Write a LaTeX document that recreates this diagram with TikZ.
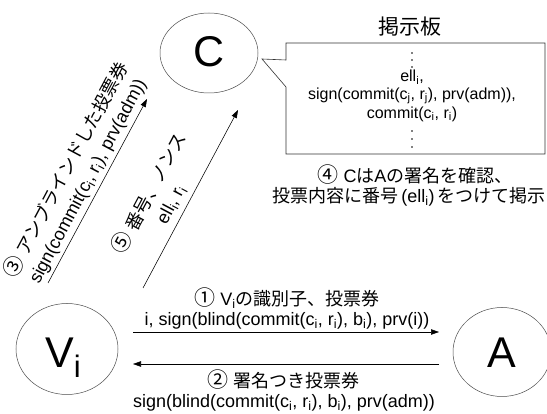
\documentclass[tikz,border=0pt]{standalone}
\usepackage{fontspec}
\setmainfont{Liberation Sans}
\newfontfamily\jp{Noto Sans CJK JP}
\usetikzlibrary{arrows.meta,shapes.geometric}
\newcommand{\sbs}[1]{\textsubscript{#1}}
\newcommand{\cn}[1]{{\jp\fontsize{21}{22}\selectfont #1}}
\begin{document}
\begin{tikzpicture}[x=1pt,y=-1pt,
  ent/.style={draw=black!70, line width=0.5pt, ellipse, inner sep=0pt},
  big/.style={font=\fontsize{43}{43}\selectfont, inner sep=0pt},
  arr/.style={draw=black, line width=0.55pt, -{Triangle[length=8pt,width=5.5pt]}},
  lbl/.style={font=\fontsize{18}{22}\selectfont, inner sep=0pt},
  dlbl/.style={font=\fontsize{18}{23.5}\selectfont, inner sep=0pt, align=center, rotate=62},
  board/.style={font=\fontsize{16}{18}\selectfont, inner sep=0pt},
  dot/.style={fill=black, circle, inner sep=0pt, minimum size=1.6pt}]
\useasboundingbox (0,0) rectangle (547,414);
\fill[white] (0,0) rectangle (547,414);

% entities
\node[ent, minimum width=98pt, minimum height=80pt] (C) at (209,53) {};
\node[big] (Ct) at (209,52) {C};
\node[ent, minimum width=102pt, minimum height=91pt] (V) at (67,349) {};
\node[big, anchor=base] (Vt) at (63,368) {V\raisebox{-10pt}{\fontsize{31}{31}\selectfont i}};
\node[ent, minimum width=98pt, minimum height=89pt] (A) at (502,352) {};
\node[big, anchor=base] (At) at (502,368) {A};

% bulletin board callout
\draw[draw=black!80, line width=0.6pt, fill=white]
  (286,43) -- (545,43) -- (545,154) -- (286,154) -- (286,87) -- (262,59) -- (286,60) -- cycle;
\node[font=\fontsize{21}{22}\selectfont\jp, inner sep=0pt] (title) at (410,27) {掲示板};
\node[dot] (t1) at (412,53) {};
\node[dot] (t2) at (412,60) {};
\node[dot] (t3) at (412,67) {};
\node[board] (b1) at (412,77) {ell\sbs{i},};
\node[board] (b2) at (412,96) {sign(commit(c\sbs{j}, r\sbs{j}), prv(adm)),};
\node[board] (b3) at (412,114) {commit(c\sbs{i}, r\sbs{i})};
\node[dot] (u1) at (412,131) {};
\node[dot] (u2) at (412,139) {};
\node[dot] (u3) at (412,147) {};
\node[lbl] (cap1) at (415,175) {\cn{④} C{\jp は}A{\jp の署名を確認、}};
\node[lbl] (cap2) at (409,197) {{\jp 投票内容に番号}\,(ell\sbs{i})\,{\jp をつけて掲示}};

% horizontal arrows
\coordinate (h1s) at (133,332);
\coordinate (h1e) at (439,332);
\coordinate (h2s) at (439,364);
\coordinate (h2e) at (133,364);
\draw[arr] (h1s) -- (h1e);
\draw[arr] (h2s) -- (h2e);
\node[lbl] (l1a) at (287,298) {\cn{①} V\sbs{i}{\jp の識別子、投票券}};
\node[lbl] (l1b) at (287,321) {i, sign(blind(commit(c\sbs{i}, r\sbs{i}), b\sbs{i}), prv(i))};
\node[lbl] (l2a) at (283,380) {\cn{②} {\jp 署名つき投票券}};
\node[lbl] (l2b) at (284,403) {sign(blind(commit(c\sbs{i}, r\sbs{i}), b\sbs{i}), prv(adm))};

% diagonal arrows
\coordinate (d3s) at (48,283);
\coordinate (d3e) at (147,99);
\coordinate (d5s) at (143,288);
\coordinate (d5e) at (238,110);
\draw[arr] (d3s) -- (d3e);
\draw[arr] (d5s) -- (d5e);
\node[dlbl] (l3) at (76.2,175) {\cn{③} {\jp アンブラインドした投票券}\\sign(commit(c\sbs{i}, r\sbs{i}), prv(adm))};
\node[dlbl] (l5) at (159.2,198.5) {\cn{⑤} {\jp 番号、ノンス}\\ell\sbs{i}, r\sbs{i}};
\end{tikzpicture}
\end{document}
